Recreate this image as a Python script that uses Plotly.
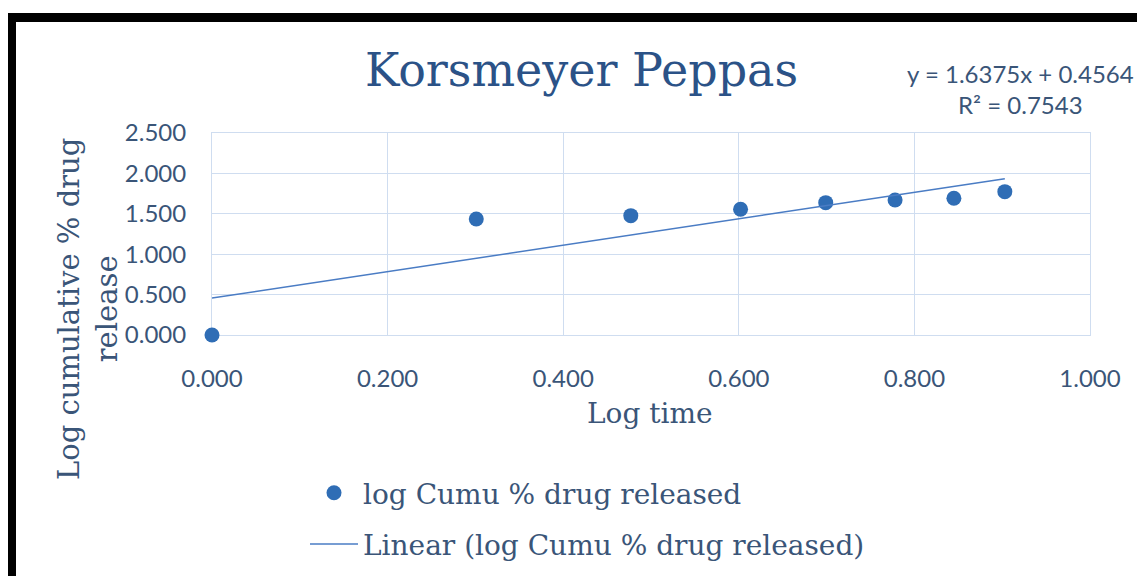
import plotly.graph_objects as go

# Data
log_time = [0.000, 0.301, 0.477, 0.602, 0.699, 0.778, 0.845, 0.903]
log_cumu = [0.000, 1.436, 1.477, 1.556, 1.638, 1.671, 1.692, 1.774]
slope = 1.6375
intercept = 0.4564
r_squared = 0.7543
x_ticks = [0.0, 0.2, 0.4, 0.6, 0.8, 1.0]
y_ticks = [0.0, 0.5, 1.0, 1.5, 2.0, 2.5]

trend_x = [min(log_time), max(log_time)]
trend_y = [slope * v + intercept for v in trend_x]

# page body has an 8px margin; work in screen coordinates and convert
OFF = 8
W, H = 1145 - OFF, 576 - OFF
L, T = 212 - OFF, 133 - OFF
R = W - (1090 - OFF)
B = H - (335 - OFF)
pw, ph = W - L - R, H - T - B

def px(x):
    return (x - OFF - L) / pw

def py(y):
    return (H - B - (y - OFF)) / ph

title_col = "#2B5287"
text_col = "#3A5578"
grid_col = "#CFDDF0"
blue = "#2F6DB5"

fig = go.Figure()
fig.add_trace(go.Scatter(
    x=log_time, y=log_cumu, mode="markers",
    name="log Cumu % drug released",
    marker=dict(color=blue, size=15),
    cliponaxis=False, legendgroup="a",
))
fig.add_trace(go.Scatter(
    x=trend_x, y=trend_y, mode="lines",
    name="Linear (log Cumu % drug released)",
    line=dict(color="#4A7CC4", width=1.5),
    legendgroup="b",
))

fig.update_layout(
    width=W, height=H,
    margin=dict(l=L, r=R, t=T, b=B, autoexpand=False),
    paper_bgcolor="white", plot_bgcolor="white",
    showlegend=True,
    legend=dict(
        x=px(305), y=py(468), xanchor="left", yanchor="top",
        font=dict(family="DejaVu Serif", size=28, color=text_col),
        tracegroupgap=12, traceorder="grouped", itemwidth=48,
        bgcolor="rgba(0,0,0,0)",
    ),
    xaxis=dict(
        range=[0, 1], tickvals=x_ticks, tickformat=".3f",
        showgrid=True, gridcolor=grid_col, gridwidth=1,
        showline=True, linecolor=grid_col, mirror=True, zeroline=False,
        layer="below traces",
        ticks="", ticklabelstandoff=22,
        tickfont=dict(family="Lato", size=24, color=text_col),
    ),
    yaxis=dict(
        range=[0, 2.5], tickvals=y_ticks, tickformat=".3f",
        showgrid=True, gridcolor=grid_col, gridwidth=1,
        showline=True, linecolor=grid_col, mirror=True, zeroline=False,
        layer="below traces",
        ticks="", ticklabelstandoff=20,
        tickfont=dict(family="Lato", size=24, color=text_col),
    ),
    annotations=[
        dict(text="Korsmeyer Peppas", x=px(581), y=py(70), xref="paper", yref="paper",
             xanchor="center", yanchor="middle", showarrow=False,
             font=dict(family="DejaVu Serif", size=46, color=title_col)),
        dict(text=f"y = {slope}x + {intercept}<br>R² = {r_squared}",
             x=px(1020), y=py(89), xref="paper", yref="paper",
             xanchor="center", yanchor="middle", align="center", showarrow=False,
             font=dict(family="Lato", size=24, color=text_col)),
        dict(text="Log time", x=px(650), y=py(413), xref="paper", yref="paper",
             xanchor="center", yanchor="middle", showarrow=False,
             font=dict(family="DejaVu Serif", size=28, color=text_col)),
        dict(text="Log cumulative % drug<br>release", x=px(88), y=py(309),
             xref="paper", yref="paper", xanchor="center", yanchor="middle",
             textangle=-90, align="center", showarrow=False,
             font=dict(family="DejaVu Serif", size=29, color=text_col)),
    ],
    shapes=[
        dict(type="rect", xref="paper", yref="paper",
             x0=px(11.5), x1=px(1160), y0=py(600), y1=py(17.5),
             line=dict(color="black", width=9), fillcolor="rgba(0,0,0,0)", layer="above"),
    ],
)

fig.write_html("out.html")
